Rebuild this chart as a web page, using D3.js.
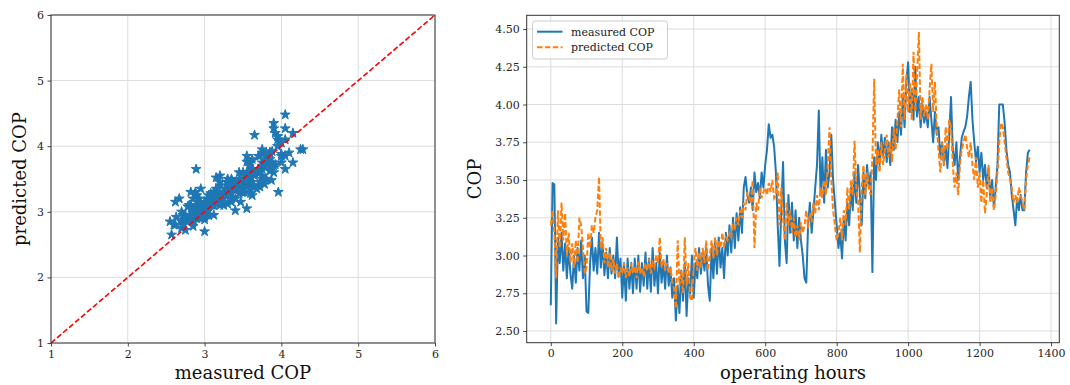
<!DOCTYPE html>
<html>
<head>
<meta charset="utf-8">
<script src="https://cdn.jsdelivr.net/npm/d3@7"></script>
<style>
  html, body { margin: 0; padding: 0; background: #fff; }
  svg { display: block; }
  text { font-family: "DejaVu Serif", serif; }
</style>
</head>
<body>
<svg id="chart" width="1070" height="385"></svg>
<script>
// ---------- DATA ----------
const hourStep = 5; // hours between samples
const measuredCOP = [
  2.67,3.48,3.47,2.55,3.12,2.95,3.15,2.90,3.08,2.85,3.05,2.88,2.78,3.00,2.82,3.05,2.90,3.10,2.85,3.00,
  2.63,2.62,2.95,3.12,2.90,3.05,2.88,3.15,2.92,3.08,2.87,3.02,2.85,3.05,2.88,3.00,2.85,3.12,2.86,2.98,
  2.72,2.95,2.70,2.98,2.78,2.95,2.75,2.98,2.78,3.00,2.76,2.95,2.80,3.02,2.78,2.98,2.76,3.05,2.80,2.95,
  2.75,3.02,2.82,2.95,2.78,3.00,2.80,2.92,2.72,2.85,2.57,2.80,2.62,2.90,2.70,2.95,2.60,2.85,2.75,3.00,
  2.72,2.95,2.85,3.05,2.88,3.02,2.90,3.05,2.80,2.70,3.05,2.85,3.10,2.88,3.12,2.92,3.05,2.85,3.15,3.00,
  3.20,3.02,3.25,3.05,3.28,3.10,3.32,3.15,3.45,3.52,3.40,3.35,3.45,3.30,3.55,3.42,3.48,3.38,3.55,3.45,
  3.60,3.70,3.87,3.78,3.80,3.72,3.55,3.20,2.93,3.30,3.62,3.10,2.95,3.40,3.15,3.35,3.10,3.30,3.05,3.25,
  3.10,3.00,2.85,2.82,3.20,3.35,3.15,3.30,3.45,3.60,3.96,3.40,3.65,3.35,3.70,3.45,3.55,3.80,3.50,3.35,
  3.20,3.05,3.15,2.98,3.25,3.10,3.35,3.20,3.45,3.30,3.55,3.35,3.60,3.40,3.20,3.55,3.38,3.60,3.45,3.55,
  2.89,3.65,3.50,3.75,3.60,3.80,3.65,3.78,3.62,3.75,3.60,3.85,3.70,3.90,3.75,3.95,3.80,4.05,3.85,4.15,
  4.28,3.95,4.10,3.90,4.25,3.92,4.05,3.85,4.00,3.88,3.95,3.85,4.05,3.90,3.75,3.95,3.80,3.85,3.65,3.75,
  3.60,3.72,3.58,3.80,4.05,3.70,3.60,3.75,3.50,3.65,3.78,3.82,3.85,3.92,4.05,4.15,3.90,3.75,3.62,3.72,
  3.55,3.68,3.50,3.60,3.45,3.58,3.38,3.50,3.32,3.45,3.60,4.00,4.00,4.00,3.88,3.70,3.60,3.55,3.40,3.30,
  3.20,3.38,3.30,3.40,3.30,3.30,3.55,3.68,3.70
];
const predictedCOP = [
  3.20,3.30,3.15,2.85,3.30,3.05,3.35,3.10,3.28,3.00,3.15,2.95,3.08,2.92,3.10,2.95,3.25,3.20,3.05,2.88,
  2.92,3.15,3.05,3.20,3.15,3.25,3.30,3.52,3.05,3.12,2.95,3.05,2.92,3.02,2.90,2.98,2.88,2.95,2.85,2.92,
  2.88,2.95,2.85,2.92,2.86,2.95,2.88,2.93,2.85,2.96,2.88,2.92,2.86,2.95,2.90,2.98,2.88,2.95,2.92,3.00,
  2.95,3.12,2.92,2.98,2.90,2.95,2.88,2.92,2.82,2.78,2.65,3.10,2.80,2.90,2.75,3.12,2.80,2.95,2.72,2.70,
  2.95,3.05,2.90,3.02,2.92,3.05,2.95,3.10,2.90,3.00,3.10,2.98,3.12,3.00,3.10,3.05,3.15,3.05,3.12,3.10,
  3.15,3.12,3.20,3.18,3.25,3.20,3.30,3.25,3.35,3.30,3.42,3.38,3.35,3.50,3.05,3.35,3.30,3.45,3.38,3.42,
  3.45,3.40,3.48,3.42,3.50,3.38,3.40,3.55,3.20,3.45,3.25,3.10,3.35,3.20,3.30,3.15,3.25,3.12,3.20,3.10,
  3.22,3.15,3.20,3.30,3.18,3.28,3.22,3.35,3.28,3.40,3.30,3.45,3.38,3.50,3.40,3.60,3.85,3.50,3.30,3.20,
  3.10,3.15,3.25,3.10,3.30,3.20,3.45,3.30,3.50,3.40,3.76,3.45,3.35,3.02,3.45,3.60,3.40,3.55,3.45,3.40,
  3.65,4.17,3.60,3.70,3.55,3.75,3.60,3.70,3.80,3.65,3.75,3.62,3.85,3.70,3.90,4.10,3.85,4.27,3.90,4.20,
  3.95,4.15,3.90,4.35,3.95,4.20,4.48,3.90,4.05,3.92,4.00,3.90,4.10,4.27,3.95,4.15,3.85,3.70,3.55,3.75,
  3.60,3.85,3.70,3.90,3.85,3.60,3.45,3.55,3.40,3.60,3.70,3.75,3.80,3.72,3.65,3.75,3.60,3.50,3.65,3.45,
  3.55,3.35,3.50,3.28,3.40,3.60,3.35,3.45,3.30,3.40,3.55,3.75,3.88,3.85,3.75,3.65,3.55,3.50,3.45,3.35,
  3.40,3.35,3.45,3.40,3.35,3.30,3.50,3.60,3.65
];
const scatterTicks = [1, 2, 3, 4, 5, 6];
const hourTicks = [0, 200, 400, 600, 800, 1000, 1200, 1400];
const copTicks = [2.50, 2.75, 3.00, 3.25, 3.50, 3.75, 4.00, 4.25, 4.50];
const seriesNames = ["measured COP", "predicted COP"];

// ---------- SETUP ----------
const svg = d3.select("#chart");
const BLUE = "#1f77b4", ORANGE = "#ff7f0e";
const GRID = "#dcdcdc", SPINE = "#333", TICKTXT = "#262626";
const DASH = "5.5,2.4";
const hours = measuredCOP.map((_, i) => i * hourStep);

function styleAxis(g) {
  g.select(".domain").remove();
  g.selectAll(".tick line").attr("stroke", SPINE).attr("stroke-width", 0.9);
  g.selectAll(".tick text").attr("fill", TICKTXT).style("font-size", "11px")
    .style("font-family", "'DejaVu Serif', serif");
}

function frame(g, x0, x1, y0, y1, id) {
  g.append("clipPath").attr("id", id).append("rect")
    .attr("x", x0).attr("y", y0).attr("width", x1 - x0).attr("height", y1 - y0);
}

// ---------- LEFT: scatter ----------
{
  const L = { x0: 51, x1: 435, y0: 15, y1: 343 };
  const x = d3.scaleLinear().domain([1, 6]).range([L.x0, L.x1]);
  const y = d3.scaleLinear().domain([1, 6]).range([L.y1, L.y0]);
  const g = svg.append("g");
  frame(g, L.x0, L.x1, L.y0, L.y1, "clipL");

  // grid
  g.append("g").selectAll("line").data(scatterTicks).join("line")
    .attr("x1", d => x(d)).attr("x2", d => x(d)).attr("y1", L.y0).attr("y2", L.y1)
    .attr("stroke", GRID).attr("stroke-width", 1);
  g.append("g").selectAll("line").data(scatterTicks).join("line")
    .attr("y1", d => y(d)).attr("y2", d => y(d)).attr("x1", L.x0).attr("x2", L.x1)
    .attr("stroke", GRID).attr("stroke-width", 1);

  const pts = measuredCOP.map((m, i) => [m, predictedCOP[i]]);
  const star = d3.symbol().type(d3.symbolStar).size(30);
  g.append("g").attr("clip-path", "url(#clipL)").selectAll("path").data(pts).join("path")
    .attr("d", star)
    .attr("transform", d => `translate(${x(d[0])},${y(d[1])})`)
    .attr("fill", BLUE).attr("stroke", BLUE).attr("stroke-width", 1);

  g.append("line").attr("clip-path", "url(#clipL)")
    .attr("x1", x(1)).attr("y1", y(1)).attr("x2", x(6)).attr("y2", y(6))
    .attr("stroke", "red").attr("stroke-width", 1.6).attr("stroke-dasharray", DASH);

  g.append("rect").attr("x", L.x0).attr("y", L.y0).attr("width", L.x1 - L.x0).attr("height", L.y1 - L.y0)
    .attr("fill", "none").attr("stroke", SPINE).attr("stroke-width", 1);

  g.append("g").attr("transform", `translate(0,${L.y1})`)
    .call(d3.axisBottom(x).tickValues(scatterTicks).tickFormat(d3.format("d")).tickSizeOuter(0).tickSize(3.5).tickPadding(3.5))
    .call(styleAxis);
  g.append("g").attr("transform", `translate(${L.x0},0)`)
    .call(d3.axisLeft(y).tickValues(scatterTicks).tickFormat(d3.format("d")).tickSizeOuter(0).tickSize(3.5).tickPadding(3.5))
    .call(styleAxis);

  g.append("text").attr("x", (L.x0 + L.x1) / 2).attr("y", 379).attr("text-anchor", "middle")
    .style("font-size", "18px").attr("fill", "#111").text("measured COP");
  g.append("text").attr("transform", `translate(26,${(L.y0 + L.y1) / 2}) rotate(-90)`).attr("text-anchor", "middle")
    .style("font-size", "18px").attr("fill", "#111").text("predicted COP");
}

// ---------- RIGHT: time series ----------
{
  const R = { x0: 526.7, x1: 1059.3, y0: 15.3, y1: 342.7 };
  const x = d3.scaleLinear().domain([-67.4, 1423]).range([R.x0, R.x1]);
  const y = d3.scaleLinear().domain([2.4225, 4.591]).range([R.y1, R.y0]);
  const g = svg.append("g");
  frame(g, R.x0, R.x1, R.y0, R.y1, "clipR");

  g.append("g").selectAll("line").data(hourTicks).join("line")
    .attr("x1", d => x(d)).attr("x2", d => x(d)).attr("y1", R.y0).attr("y2", R.y1)
    .attr("stroke", GRID).attr("stroke-width", 1);
  g.append("g").selectAll("line").data(copTicks).join("line")
    .attr("y1", d => y(d)).attr("y2", d => y(d)).attr("x1", R.x0).attr("x2", R.x1)
    .attr("stroke", GRID).attr("stroke-width", 1);

  const lineM = d3.line().x((d, i) => x(hours[i])).y(d => y(d));
  const plot = g.append("g").attr("clip-path", "url(#clipR)");
  plot.append("path").datum(measuredCOP).attr("d", lineM)
    .attr("fill", "none").attr("stroke", BLUE).attr("stroke-width", 2).attr("stroke-linejoin", "round");
  plot.append("path").datum(predictedCOP).attr("d", lineM)
    .attr("fill", "none").attr("stroke", ORANGE).attr("stroke-width", 2).attr("stroke-dasharray", DASH);

  g.append("rect").attr("x", R.x0).attr("y", R.y0).attr("width", R.x1 - R.x0).attr("height", R.y1 - R.y0)
    .attr("fill", "none").attr("stroke", SPINE).attr("stroke-width", 1);

  g.append("g").attr("transform", `translate(0,${R.y1})`)
    .call(d3.axisBottom(x).tickValues(hourTicks).tickFormat(d3.format("d")).tickSizeOuter(0).tickSize(3.5).tickPadding(3.5))
    .call(styleAxis);
  g.append("g").attr("transform", `translate(${R.x0},0)`)
    .call(d3.axisLeft(y).tickValues(copTicks).tickFormat(d3.format(".2f")).tickSizeOuter(0).tickSize(3.5).tickPadding(3.5))
    .call(styleAxis);

  g.append("text").attr("x", (R.x0 + R.x1) / 2).attr("y", 379).attr("text-anchor", "middle")
    .style("font-size", "18px").attr("fill", "#111").text("operating hours");
  g.append("text").attr("transform", `translate(481,${(R.y0 + R.y1) / 2}) rotate(-90)`).attr("text-anchor", "middle")
    .style("font-size", "18px").attr("fill", "#111").text("COP");

  // legend
  const lg = g.append("g").attr("transform", "translate(532.5,21)");
  lg.append("rect").attr("width", 135).attr("height", 38).attr("rx", 2.5)
    .attr("fill", "white").attr("fill-opacity", 0.8).attr("stroke", "#cccccc").attr("stroke-width", 1);
  const colors = [BLUE, ORANGE];
  seriesNames.forEach((name, i) => {
    const yy = 10.7 + i * 15.6;
    lg.append("line").attr("x1", 4.5).attr("x2", 30).attr("y1", yy).attr("y2", yy)
      .attr("stroke", colors[i]).attr("stroke-width", 2)
      .attr("stroke-dasharray", i === 1 ? DASH : null);
    lg.append("text").attr("x", 38.5).attr("y", yy).attr("dy", "0.35em")
      .style("font-size", "11px").attr("fill", "#222").text(name);
  });
}
</script>
</body>
</html>
